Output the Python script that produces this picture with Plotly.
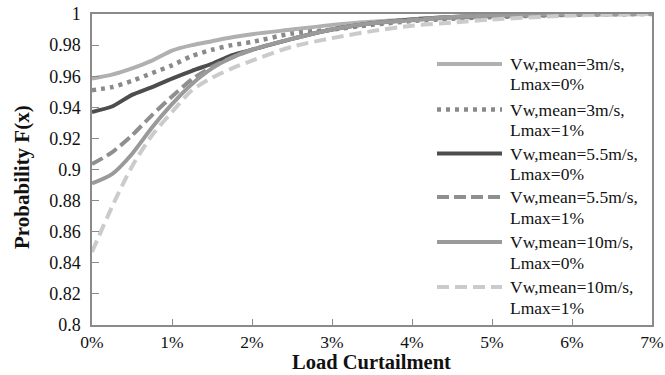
import plotly.graph_objects as go

x = [0, 0.25, 0.5, 0.75, 1.0, 1.25, 1.5, 1.75, 2.0, 2.5, 3.0, 3.5, 4.0, 4.5, 5.0, 6.0, 7.0]

s_3_l0 = [0.9585, 0.961, 0.965, 0.970, 0.9765, 0.980, 0.9825, 0.985, 0.987, 0.990, 0.993, 0.995, 0.9965, 0.9975, 0.9985, 0.9995, 1.0]
s_3_l1 = [0.951, 0.953, 0.957, 0.962, 0.967, 0.973, 0.977, 0.980, 0.982, 0.9875, 0.990, 0.993, 0.9955, 0.997, 0.998, 0.9995, 1.0]
s_55_l0 = [0.937, 0.9405, 0.948, 0.953, 0.9585, 0.9635, 0.968, 0.9735, 0.977, 0.984, 0.990, 0.994, 0.9965, 0.998, 0.999, 1.0, 1.0]
s_55_l1 = [0.9035, 0.911, 0.922, 0.935, 0.947, 0.958, 0.966, 0.972, 0.977, 0.984, 0.990, 0.994, 0.9965, 0.998, 0.999, 1.0, 1.0]
s_10_l0 = [0.891, 0.897, 0.910, 0.927, 0.942, 0.955, 0.965, 0.972, 0.977, 0.984, 0.990, 0.994, 0.996, 0.998, 0.999, 1.0, 1.0]
s_10_l1 = [0.847, 0.876, 0.902, 0.922, 0.937, 0.951, 0.959, 0.965, 0.970, 0.979, 0.9845, 0.989, 0.9925, 0.9945, 0.9965, 0.999, 1.0]

speeds = ["3m/s", "3m/s", "5.5m/s", "5.5m/s", "10m/s", "10m/s"]
lmax = ["0%", "1%", "0%", "1%", "0%", "1%"]
series = [s_3_l0, s_3_l1, s_55_l0, s_55_l1, s_10_l0, s_10_l1]

x_ticks = [0, 1, 2, 3, 4, 5, 6, 7]
x_ticktext = ["0%", "1%", "2%", "3%", "4%", "5%", "6%", "7%"]
y_ticks = [0.8, 0.82, 0.84, 0.86, 0.88, 0.9, 0.92, 0.94, 0.96, 0.98, 1.0]
y_ticktext = ["0.8", "0.82", "0.84", "0.86", "0.88", "0.9", "0.92", "0.94", "0.96", "0.98", "1"]

colors = ["#b0b0b0", "#8a8a8a", "#4d4d4d", "#8f8f8f", "#9a9a9a", "#cbcbcb"]
dashes = ["solid", "4px,5px", "solid", "12px,5px", "solid", "12px,6px"]
widths = [4, 4.5, 4, 4, 4, 4]

FONT = "Liberation Serif, Times New Roman, serif"

L, T, W, H = 92, 14, 560, 311   # plot area in pixels

fig = go.Figure()
for sp, lm, s, c, d, w in zip(speeds, lmax, series, colors, dashes, widths):
    fig.add_trace(go.Scatter(x=x, y=s, name=f"Vw,mean={sp}, Lmax={lm}", mode="lines",
                             showlegend=False, hoverinfo="skip",
                             line=dict(color=c, dash=d, width=w, shape="spline", smoothing=0.7)))

def xp(px):
    return (px - L) / W
def yp(py):
    return (T + H - py) / H

# manual legend (long line samples, two-line labels)
first_rows = [64, 109.5, 153.5, 197, 242, 287]
for i, (sp, lm, c, d, w) in enumerate(zip(speeds, lmax, colors, dashes, widths)):
    y0 = first_rows[i]
    fig.add_shape(type="line", xref="paper", yref="paper",
                  x0=xp(437), x1=xp(502), y0=yp(y0), y1=yp(y0),
                  line=dict(color=c, dash=d, width=w))
    fig.add_annotation(xref="paper", yref="paper", x=xp(508), y=yp(y0),
                       xanchor="left", yanchor="middle", showarrow=False,
                       text=f"Vw,mean={sp},", font=dict(family=FONT, size=17.5, color="#111"))
    fig.add_annotation(xref="paper", yref="paper", x=xp(508), y=yp(y0 + 20.5),
                       xanchor="left", yanchor="middle", showarrow=False,
                       text=f"Lmax={lm}", font=dict(family=FONT, size=17.5, color="#111"))

# axis titles
fig.add_annotation(xref="paper", yref="paper", x=xp(371), y=yp(362),
                   xanchor="center", yanchor="middle", showarrow=False,
                   text="<b>Load Curtailment</b>", font=dict(family=FONT, size=20.5, color="#111"))
fig.add_annotation(xref="paper", yref="paper", x=xp(22), y=yp(177),
                   xanchor="center", yanchor="middle", showarrow=False, textangle=-90,
                   text="<b>Probability F(x)</b>", font=dict(family=FONT, size=21, color="#111"))

fig.update_layout(
    width=665, height=375,
    margin=dict(l=L, r=665 - L - W, t=T, b=375 - T - H),
    plot_bgcolor="white", paper_bgcolor="white",
    font=dict(family=FONT, size=18, color="#111"),
    showlegend=False,
)
fig.update_xaxes(range=[0, 7], tickvals=x_ticks, ticktext=x_ticktext, automargin=False,
                 showgrid=False, zeroline=False, showline=True, linecolor="#8a8a8a", linewidth=1.5,
                 mirror=True, ticks="inside", ticklen=6, tickcolor="#8a8a8a", tickwidth=1.2,
                 tickfont=dict(size=17.5), ticklabelstandoff=0, ticklabeloverflow="allow")
fig.update_yaxes(range=[0.8, 1.0], tickvals=y_ticks, ticktext=y_ticktext, automargin=False,
                 showgrid=False, zeroline=False, showline=True, linecolor="#8a8a8a", linewidth=1.5,
                 mirror=True, ticks="inside", ticklen=7, tickcolor="#8a8a8a", tickwidth=1.2,
                 tickfont=dict(size=18), ticklabelstandoff=6, ticklabeloverflow="allow")
fig.write_html("out.html", config={"displayModeBar": False},
               post_script="document.body.style.margin='0';")
